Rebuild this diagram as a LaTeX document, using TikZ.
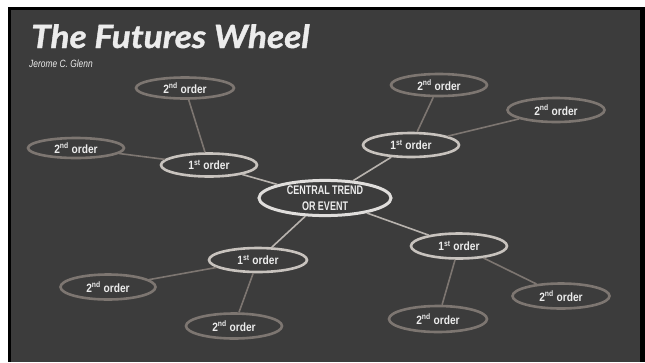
\documentclass[tikz,border=0pt]{standalone}
\usepackage{fontspec}
\usetikzlibrary{shapes.geometric}
\newfontfamily\titlefont{Lato}[FakeStretch=1.1,FakeBold=1.2]
\newfontfamily\nodefont{Liberation Sans}[FakeStretch=0.85]
\newfontfamily\centfont{Liberation Sans}[FakeStretch=0.72]
\newfontfamily\subfont{Liberation Sans}[FakeStretch=0.8]
\definecolor{bg}{HTML}{3C3C3C}
\definecolor{txt}{HTML}{ECECEC}
\definecolor{cstroke}{HTML}{E0DEDC}
\definecolor{fstroke}{HTML}{C8C3BE}
\definecolor{sstroke}{HTML}{7D7671}
\definecolor{fline}{HTML}{B8B3AE}
\definecolor{sline}{HTML}{7D7671}
\tikzset{
  oval/.style={ellipse, inner sep=0pt, text=txt, font={\nodefont\bfseries\fontsize{12}{14}\selectfont}},
  central/.style={oval, draw=cstroke, line width=3pt, align=center, font={\centfont\bfseries\fontsize{12.5}{16}\selectfont}},
  first/.style={oval, draw=fstroke, line width=2.6pt},
  second/.style={oval, draw=sstroke, line width=2.6pt},
  fconn/.style={draw=fline, line width=1.6pt},
  sconn/.style={draw=sline, line width=1.6pt},
}
\newcommand{\ordA}{1\textsuperscript{st} order}
\newcommand{\ordB}{2\textsuperscript{nd} order}
\begin{document}
\begin{tikzpicture}[x=1pt,y=-1pt]
\useasboundingbox (0,0) rectangle (645,362);
\fill[white] (0,0) rectangle (645,362);
\fill[black] (8,7) rectangle (645,362);
\fill[bg] (11,10) rectangle (640,362);
% title
\node[anchor=base west, inner sep=0pt, text=txt, font={\titlefont\bfseries\itshape\fontsize{32}{36}\selectfont}] (title) at (31,48) {The Futures Wheel};
\node[anchor=base west, inner sep=0pt, text=txt, font={\subfont\itshape\fontsize{10.5}{12}\selectfont}] (author) at (29,67.5) {Jerome C. Glenn};
% nodes
\node[central, minimum width=132pt, minimum height=35pt] (c) at (325,198) {CENTRAL TREND\\OR EVENT};
\node[first, minimum width=96pt, minimum height=23pt] (f1) at (209,165) {\ordA};
\node[first, minimum width=96pt, minimum height=24pt] (f2) at (411,145) {\ordA};
\node[first, minimum width=98pt, minimum height=24pt] (f3) at (258,260) {\ordA};
\node[first, minimum width=96pt, minimum height=25pt] (f4) at (459,246) {\ordA};
\node[second, minimum width=98pt, minimum height=21pt] (s1) at (185,88) {\ordB};
\node[second, minimum width=96pt, minimum height=20pt] (s2) at (76,148) {\ordB};
\node[second, minimum width=96pt, minimum height=22pt] (s3) at (439,85) {\ordB};
\node[second, minimum width=97pt, minimum height=24pt] (s4) at (556,110) {\ordB};
\node[second, minimum width=95pt, minimum height=25pt] (s5) at (108,287) {\ordB};
\node[second, minimum width=96pt, minimum height=25pt] (s6) at (234,326) {\ordB};
\node[second, minimum width=97pt, minimum height=25pt] (s7) at (561,296) {\ordB};
\node[second, minimum width=98pt, minimum height=26pt] (s8) at (438,319) {\ordB};
% connectors
\draw[fconn] (c) -- (f1);
\draw[fconn] (c) -- (f2);
\draw[fconn] (c) -- (f3);
\draw[fconn] (c) -- (f4);
\draw[sconn] (f1) -- (s1);
\draw[sconn] (f1) -- (s2);
\draw[sconn] (f2) -- (s3);
\draw[sconn] (f2) -- (s4);
\draw[sconn] (f3) -- (s5);
\draw[sconn] (f3) -- (s6);
\draw[sconn] (f4) -- (s7);
\draw[sconn] (f4) -- (s8);
\end{tikzpicture}
\end{document}
